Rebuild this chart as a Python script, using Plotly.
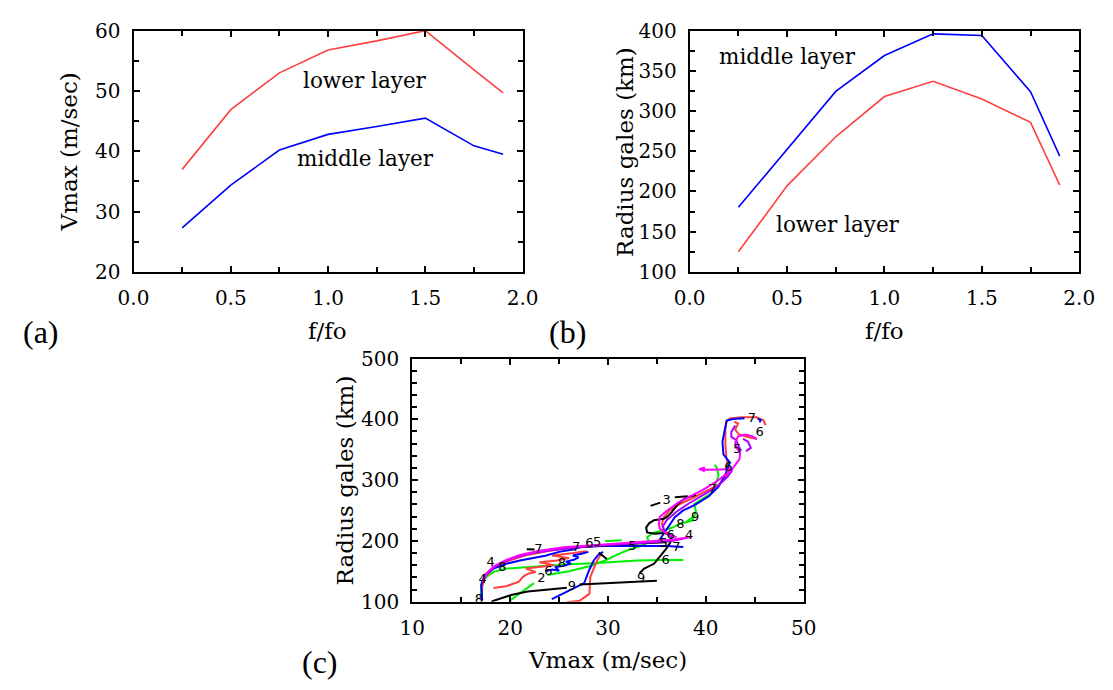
import plotly.graph_objects as go

# ---------------- Panel (a) and (b) data ----------------
f_ratio = [0.25, 0.5, 0.75, 1.0, 1.25, 1.5, 1.75, 1.9]
vmax_lower = [37.0, 46.9, 53.0, 56.8, 58.3, 60.0, 53.5, 49.7]
vmax_middle = [27.3, 34.4, 40.2, 42.8, 44.1, 45.5, 40.9, 39.5]
rad_middle = [180.4, 252.0, 324.4, 369.0, 396.0, 394.0, 324.0, 244.0]
rad_lower = [125.0, 207.0, 268.0, 318.0, 337.0, 315.0, 286.0, 208.0]

# ---------------- Panel (c) trajectories (Vmax, Radius) ----------------
blk_bottom_v = [18.1, 20.1, 21.8, 23.8, 25.8]
blk_bottom_r = [100.5, 111.0, 117.0, 120.0, 123.0]
blk_low_v = [27.1, 31.0, 35.0]
blk_low_r = [128.5, 131.5, 134.4]
blk_climb_v = [33.2, 33.7, 34.7, 35.4, 35.9, 36.35, 36.5, 36.3, 35.7, 34.8, 34.0, 33.9, 34.2, 34.7, 35.7, 36.0, 36.5, 37.0, 37.5, 38.0, 39.0]
blk_climb_r = [146.5, 154.5, 162.4, 175.6, 186.2, 196.8, 207.0, 212.0, 213.0, 212.0, 214.0, 222.0, 229.0, 234.0, 236.5, 239.0, 247.0, 257.6, 265.6, 271.0, 276.0]
blk_dash3_v = [34.35, 35.34]
blk_dash3_r = [257.6, 263.0]
blk_line3_v = [36.83, 38.16]
blk_line3_r = [271.9, 273.5]
blk_dash7_v = [21.7, 22.5]
blk_dash7_r = [186.5, 186.0]
blk_plateau_v = [26.4, 29.0, 31.5, 34.0, 36.0]
blk_plateau_r = [188.9, 192.0, 194.5, 196.5, 197.9]
blk_tick_v = [29.06, 29.88]
blk_tick_r = [181.0, 170.3]

red_main_v = [17.1, 17.15, 17.5, 18.3, 19.6, 21.5, 24.0, 27.0, 30.5, 34.0, 36.0, 37.3]
red_main_r = [104.0, 125.0, 142.0, 155.0, 166.0, 176.0, 184.0, 190.0, 194.0, 197.0, 199.0, 203.0]
red_diag_v = [36.6, 35.8, 35.5, 35.7, 36.3, 37.3, 38.7, 40.0, 41.3, 42.0, 42.6, 42.3, 42.1, 42.0, 42.0, 42.1, 42.45, 43.6, 45.2, 45.9, 46.1]
red_diag_r = [206.0, 215.0, 228.0, 239.0, 250.0, 260.0, 271.0, 281.0, 292.0, 305.0, 316.0, 322.0, 337.0, 360.0, 385.0, 396.0, 401.6, 403.2, 403.2, 398.4, 390.5]
red_branch_v = [42.9, 43.3, 43.0, 43.4, 44.5, 45.2]
red_branch_r = [396.0, 393.0, 383.0, 375.0, 370.0, 368.0]
red_noise_v = [18.3, 19.6, 20.9, 21.3, 21.9, 22.6, 21.6, 23.3, 24.5, 23.0, 24.8, 26.0, 24.3, 26.5, 27.8]
red_noise_r = [122.7, 125.4, 133.0, 141.0, 146.5, 149.0, 154.5, 157.0, 160.0, 165.0, 168.0, 172.0, 176.0, 180.0, 183.0]
red_desc_v = [29.3, 28.9, 28.6, 28.2, 28.1, 27.1, 25.8]
red_desc_r = [178.0, 168.0, 157.0, 141.0, 113.0, 101.6, 99.0]

blue_main_v = [17.15, 17.05, 17.4, 18.3, 19.6, 21.0, 23.6, 25.0, 26.4, 27.4, 30.0, 33.0, 36.0, 37.7]
blue_main_r = [101.6, 128.0, 144.0, 154.5, 162.4, 167.8, 175.7, 182.0, 186.0, 191.0, 191.6, 191.6, 191.6, 190.0]
blue_diag_v = [35.18, 35.84, 36.34, 36.83, 37.66, 38.98, 40.3, 41.3, 41.96, 42.45, 41.8, 41.7, 41.96, 42.13, 42.78, 43.95]
blue_diag_r = [199.5, 215.4, 228.6, 239.2, 249.7, 260.3, 273.5, 289.4, 308.0, 329.0, 342.4, 363.5, 384.6, 398.0, 400.5, 401.6]
blue_tail_v = [45.3, 45.6, 45.5]
blue_tail_r = [401.0, 399.0, 395.0]
blue_low_v = [24.26, 26.0, 27.57, 28.07, 28.56, 29.0, 29.5]
blue_low_r = [104.3, 118.0, 130.6, 151.9, 168.3, 177.0, 182.0]
blue_cluster_v = [23.6, 24.3, 25.0, 24.6, 25.5, 26.2, 25.7, 26.5, 27.0, 26.4, 27.3, 28.0]
blue_cluster_r = [150.0, 153.0, 151.0, 157.0, 159.0, 163.0, 166.0, 169.0, 173.0, 176.0, 179.0, 182.0]

green_main_v = [16.98, 17.05, 17.4, 18.3, 19.6, 21.9, 23.6, 26.0, 28.5, 30.5, 33.0, 35.5, 37.7]
green_main_r = [106.8, 128.0, 138.6, 149.2, 154.5, 157.1, 159.8, 161.5, 163.5, 166.0, 168.0, 168.5, 168.5]
green_rise_v = [23.8, 26.0, 28.0, 29.7, 31.0, 32.2, 33.4, 34.2, 34.0, 34.6, 35.8, 36.6, 37.3, 38.0, 38.66, 38.98, 38.8, 39.3, 40.64, 40.97, 41.3, 41.1, 40.9]
green_rise_r = [144.0, 150.0, 158.0, 167.8, 178.0, 186.0, 192.0, 198.0, 206.0, 213.0, 218.0, 222.0, 228.0, 231.0, 233.8, 249.7, 260.3, 265.6, 278.9, 292.0, 308.0, 321.0, 325.0]
green_nine_v = [38.0, 38.4, 38.9]
green_nine_r = [231.0, 236.0, 242.0]
green_small_v = [19.96, 21.2, 22.44]
green_small_r = [101.6, 116.0, 130.7]
green_piece_v = [29.7, 31.4]
green_piece_r = [199.5, 201.0]

mag_main_v = [17.2, 17.5, 18.3, 19.5, 21.0, 23.0, 25.5, 28.5, 31.5, 34.5, 36.5, 37.8, 38.5]
mag_main_r = [132.0, 145.0, 158.0, 168.0, 177.0, 184.0, 189.5, 193.0, 196.0, 199.0, 202.0, 205.0, 207.0]
mag_diag_v = [37.0, 36.0, 35.3, 35.2, 35.3, 36.0, 37.2, 38.3, 39.7, 41.0, 42.0, 42.6, 43.0, 43.45]
mag_diag_r = [206.0, 212.0, 220.0, 228.6, 239.7, 249.2, 263.5, 273.0, 284.1, 296.8, 307.9, 316.0, 325.0, 334.4]
mag_arrow_v = [39.9, 39.3, 39.9, 39.3, 40.5, 41.5, 42.4]
mag_arrow_r = [321.0, 318.0, 314.5, 318.0, 317.0, 317.5, 318.0]
mag_top_v = [43.45, 43.5, 43.2, 43.0, 43.3, 44.0, 44.8, 45.2]
mag_top_r = [334.4, 345.0, 352.0, 362.0, 372.0, 375.0, 372.0, 367.0]

pur_main_v = [17.3, 17.8, 18.8, 20.3, 22.3, 24.8, 27.8, 31.0, 34.0, 36.5, 37.5, 38.3]
pur_main_r = [137.0, 150.0, 162.0, 172.0, 180.0, 186.0, 191.0, 194.5, 197.5, 200.0, 203.0, 206.0]
pur_diag_v = [36.5, 35.8, 35.6, 36.0, 37.0, 38.3, 39.8, 41.2, 42.2, 42.7]
pur_diag_r = [206.0, 214.0, 224.0, 234.0, 248.0, 262.0, 276.0, 290.0, 305.0, 316.0]
pur_top_v = [43.0, 42.6, 42.6, 43.1, 43.45, 43.6]
pur_top_r = [390.0, 379.0, 371.0, 366.0, 353.0, 348.0]
pur_top2_v = [43.8, 44.3, 44.6, 44.1]
pur_top2_r = [368.0, 363.5, 353.0, 347.6]

label_text = ["8", "4", "4", "8", "7", "2", "6", "8", "7", "6", "5", "9", "5", "9",
              "5", "7", "6", "8", "6", "4", "9", "3", "7", "6", "5", "6", "7"]
label_v = [16.8, 17.2, 18.0, 19.2, 22.9, 23.2, 23.9, 25.3, 26.75, 28.1, 28.9, 26.3, 32.5, 33.4,
           35.7, 37.0, 35.9, 37.4, 36.4, 38.3, 38.9, 36.0, 40.66, 42.3, 43.2, 45.5, 44.7]
label_r = [104, 136, 164, 156, 186, 137, 149, 162, 188, 196, 197, 124, 190.5, 138.6,
           195, 188.5, 167.7, 226, 209, 209, 238, 266.7, 284, 319.6, 350, 378, 401]

# ---------------- colours ----------------
RED = "#ff4040"
BLUE = "#0000ff"
GREEN = "#00ee00"
MAG = "#ff00ff"
PUR = "#b000ff"
BLK = "#000000"

SERIF = "DejaVu Serif"

fig = go.Figure()


def add_line(x, y, color, xa, ya, width=1.6):
    fig.add_trace(go.Scatter(x=x, y=y, mode="lines", line=dict(color=color, width=width),
                             xaxis=xa, yaxis=ya, showlegend=False, hoverinfo="skip"))


# panel (a)
add_line(f_ratio, vmax_lower, RED, "x", "y")
add_line(f_ratio, vmax_middle, BLUE, "x", "y")
# panel (b)
add_line(f_ratio, rad_middle, BLUE, "x2", "y2")
add_line(f_ratio, rad_lower, RED, "x2", "y2")

# panel (c)
traj = [
    (green_main_v, green_main_r, GREEN), (green_rise_v, green_rise_r, GREEN),
    (green_nine_v, green_nine_r, GREEN), (green_small_v, green_small_r, GREEN),
    (green_piece_v, green_piece_r, GREEN),
    (red_noise_v, red_noise_r, RED), (red_desc_v, red_desc_r, RED),
    (red_main_v, red_main_r, RED), (red_diag_v, red_diag_r, RED),
    (red_branch_v, red_branch_r, RED),
    (blue_low_v, blue_low_r, BLUE), (blue_cluster_v, blue_cluster_r, BLUE),
    (blue_main_v, blue_main_r, BLUE), (blue_diag_v, blue_diag_r, BLUE),
    (blue_tail_v, blue_tail_r, BLUE),
    (blk_bottom_v, blk_bottom_r, BLK), (blk_low_v, blk_low_r, BLK),
    (blk_climb_v, blk_climb_r, BLK), (blk_dash3_v, blk_dash3_r, BLK),
    (blk_line3_v, blk_line3_r, BLK), (blk_dash7_v, blk_dash7_r, BLK),
    (blk_plateau_v, blk_plateau_r, BLK), (blk_tick_v, blk_tick_r, BLK),
    (pur_main_v, pur_main_r, PUR), (pur_diag_v, pur_diag_r, PUR),
    (pur_top_v, pur_top_r, PUR), (pur_top2_v, pur_top2_r, PUR),
    (mag_main_v, mag_main_r, MAG), (mag_diag_v, mag_diag_r, MAG),
    (mag_arrow_v, mag_arrow_r, MAG), (mag_top_v, mag_top_r, MAG),
]
for xv, yv, col in traj:
    add_line(xv, yv, col, "x3", "y3", width=2)

fig.add_trace(go.Scatter(x=label_v, y=label_r, mode="text", text=label_text,
                         textfont=dict(family="DejaVu Sans", size=13, color="black"),
                         xaxis="x3", yaxis="y3", showlegend=False, hoverinfo="skip"))

W, H = 1113, 690


def px_dom_x(a, b):
    return [a / W, b / W]


def px_dom_y(top, bottom):
    return [1 - bottom / H, 1 - top / H]


def axis(rng, dtick, minor_dtick, dom, anchor, fmt=None):
    d = dict(range=rng, domain=dom, anchor=anchor, dtick=dtick, tick0=rng[0],
             showline=True, linecolor="black", linewidth=2, mirror="allticks",
             ticks="inside", ticklen=6, tickwidth=1.5, tickcolor="black",
             showgrid=False, zeroline=False, ticklabelstandoff=7,
             tickfont=dict(family=SERIF, size=20, color="black"),
             minor=dict(ticks="inside", ticklen=5, tickwidth=1.5, tickcolor="black",
                        dtick=minor_dtick, tick0=rng[0], showgrid=False))
    if fmt:
        d["tickformat"] = fmt
    return d


ya_dom = px_dom_y(19.3, 269.3)
yc_dom = px_dom_y(359, 611)

fig.update_layout(
    width=W, height=H, autosize=False,
    margin=dict(l=0, r=0, t=0, b=0),
    paper_bgcolor="white", plot_bgcolor="white",
    xaxis=axis([0, 2], 0.5, 0.25, px_dom_x(121, 521.6), "y", ".1f"),
    yaxis=axis([20, 60], 10, 5, ya_dom, "x"),
    xaxis2=axis([0, 2], 0.5, 0.25, px_dom_x(693.6, 1094.7), "y2", ".1f"),
    yaxis2=axis([100, 400], 50, 25, ya_dom, "x2"),
    xaxis3=axis([10, 50], 10, 5, px_dom_x(408, 811), "y3"),
    yaxis3=axis([100, 500], 100, 20, yc_dom, "x3"),
)


def ann_px(text, x, y, size, angle=0, family=SERIF):
    fig.add_annotation(text=text, x=x / W, y=1 - y / H, xref="paper", yref="paper",
                       showarrow=False, textangle=angle, xanchor="center", yanchor="middle",
                       font=dict(family=family, size=size, color="black"))


# axis titles
ann_px("Vmax (m/sec)", 55, 145, 23, -90)
ann_px("f/fo", 321, 330, 23)
ann_px("Radius gales (km)", 627, 145, 23, -90)
ann_px("f/fo", 894, 330, 23)
ann_px("Radius gales (km)", 339, 485, 23, -90)
ann_px("Vmax (m/sec)", 609.5, 671, 23)
# panel labels
ann_px("(a)", 26, 332, 32, 0, "Liberation Serif")
ann_px("(b)", 568, 332, 32, 0, "Liberation Serif")
ann_px("(c)", 313, 673, 32, 0, "Liberation Serif")

# in-panel layer labels
LBL = dict(family=SERIF, size=21.5, color="black")
fig.add_annotation(text="lower layer", x=1.19, y=51.8, xref="x", yref="y", showarrow=False, font=LBL)
fig.add_annotation(text="middle layer", x=1.19, y=38.8, xref="x", yref="y", showarrow=False, font=LBL)
fig.add_annotation(text="middle layer", x=0.50, y=368.4, xref="x2", yref="y2", showarrow=False, font=LBL)
fig.add_annotation(text="lower layer", x=0.76, y=158.4, xref="x2", yref="y2", showarrow=False, font=LBL)

fig.write_html("out.html")
